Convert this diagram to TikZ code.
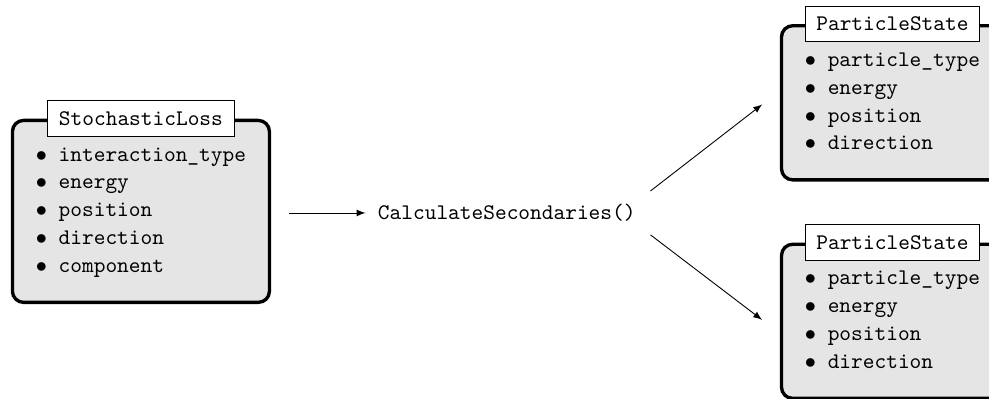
\documentclass[tikz,border=0pt]{standalone}
\usepackage{tikz}
\usetikzlibrary{positioning, arrows}
\tikzstyle{fieldbox}   = [rectangle, rounded corners=5pt, line width=1.5pt, draw=black, fill=gray!20, align=left, font=\ttfamily, inner xsep=10.5pt, inner ysep=9.8pt, execute at end node=\strut]
\tikzstyle{fieldtitle} = [rectangle, draw=black, fill=white, font=\ttfamily, inner xsep=5pt, minimum height=16pt]
\tikzstyle{method}     = [font=\ttfamily]
\tikzstyle{arrow}      = [->, >=latex]

\begin{document}
\begin{tikzpicture}

    \useasboundingbox (-63.2pt,-84.1pt) rectangle (380.3pt,94.8pt);
    \clip (-63.2pt,-84.1pt) rectangle (380.3pt,94.8pt);

    \node (loss)   [fieldbox] at (0,0) {\strut$\bullet$\ interaction\_type\\[0.5pt] $\bullet$\ energy\\[0.5pt] $\bullet$\ position\\[0.5pt] $\bullet$\ direction\\[0.5pt] $\bullet$\ component};
    \node (calc)   [method, right=1.56cm of loss, yshift=-0.7pt] {CalculateSecondaries()};
    \node (stateA) [fieldbox, right=2.15cm of calc, yshift=49.4pt] {\strut$\bullet$\ particle\_type\\[0.5pt] $\bullet$\ energy\\[0.5pt] $\bullet$\ position\\[0.5pt] $\bullet$\ direction};
    \node (stateB) [fieldbox, right=2.15cm of calc, yshift=-48.6pt] {\strut$\bullet$\ particle\_type\\[0.5pt] $\bullet$\ energy\\[0.5pt] $\bullet$\ position\\[0.5pt] $\bullet$\ direction};

    % class names on top of the boxes
    \node (lossname)   [fieldtitle] at (loss.north)   {StochasticLoss};
    \node (stateAname) [fieldtitle] at (stateA.north) {ParticleState};
    \node (stateBname) [fieldtitle] at (stateB.north) {ParticleState};

    \draw [arrow, shorten <=8pt, shorten >=2pt] (loss.east |- calc) -- (calc);
    \draw [arrow, shorten <=4pt, shorten >=10pt] (calc.north east) -- ([yshift=5.4pt]stateA.west);
    \draw [arrow, shorten <=4pt, shorten >=10pt] (calc.south east) -- ([yshift=-5.4pt]stateB.west);

\end{tikzpicture}
\end{document}
